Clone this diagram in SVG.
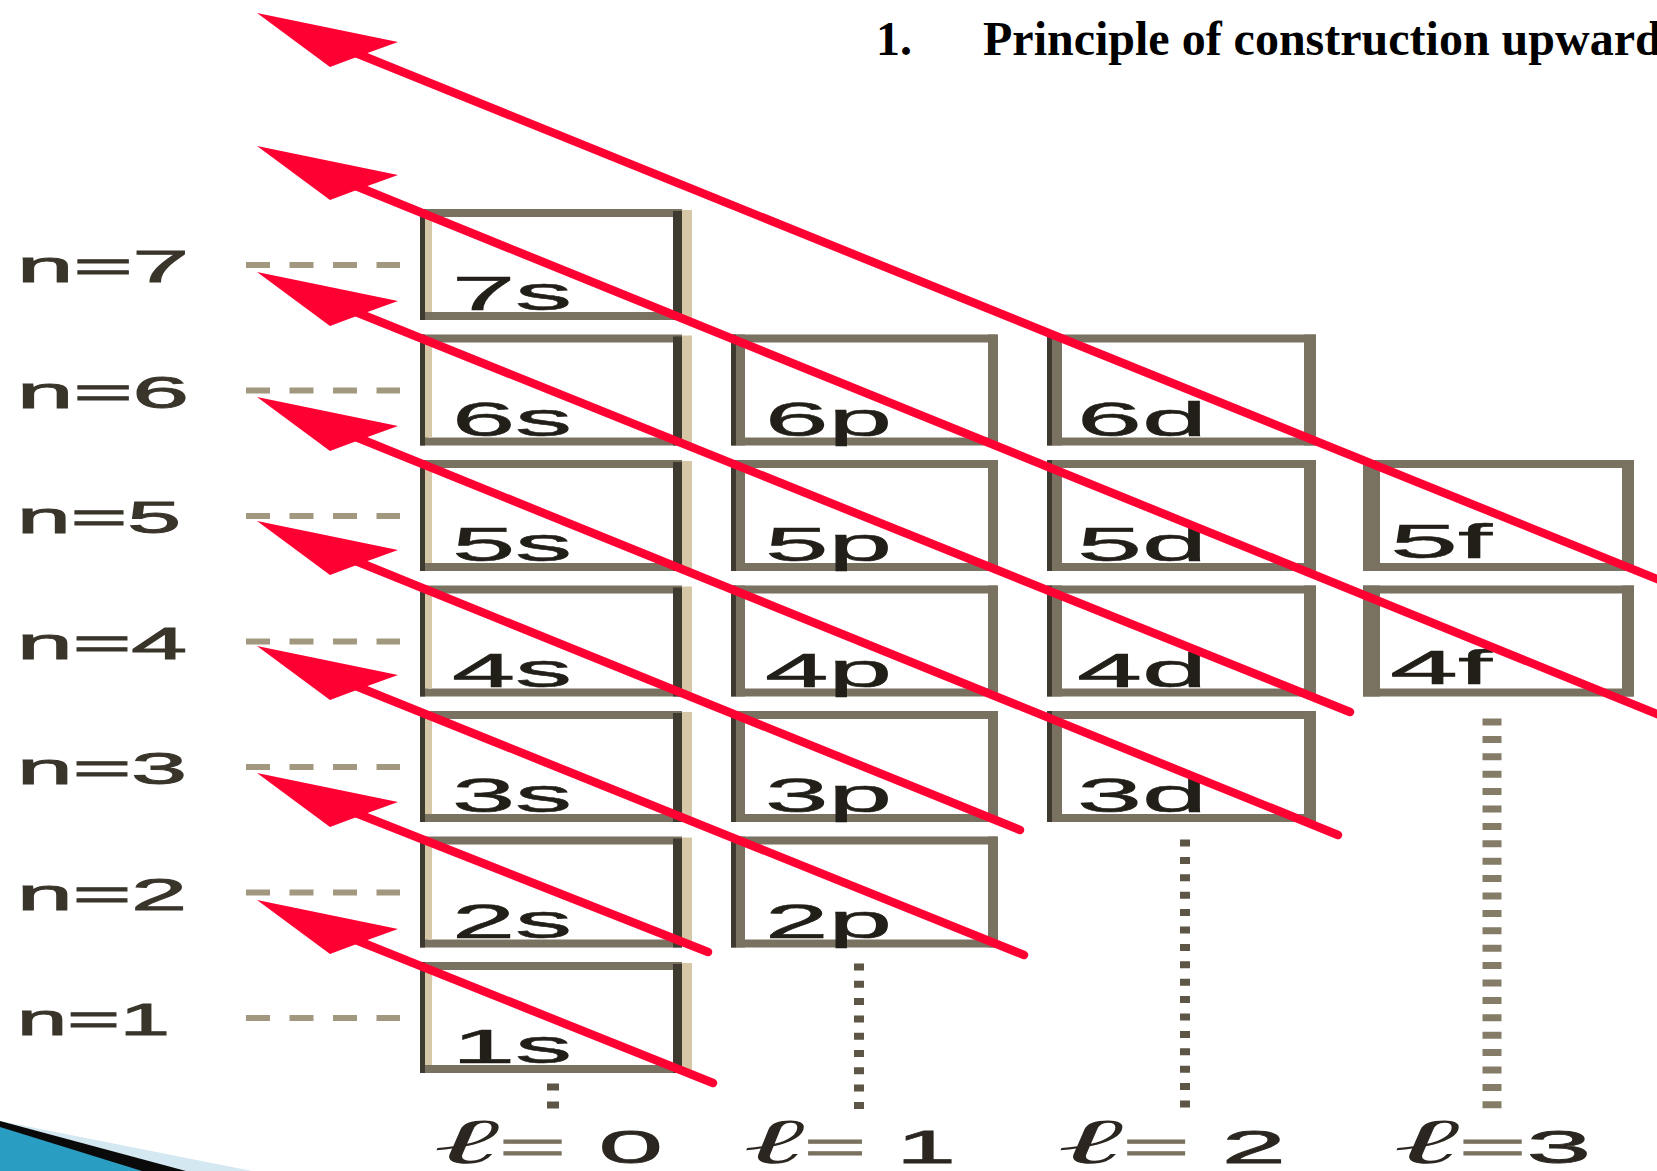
<svg xmlns="http://www.w3.org/2000/svg" width="1657" height="1171" viewBox="0 0 1657 1171">
<style>
.bx{fill:none;stroke:#7a7260;stroke-width:8}
.dk{fill:#3f3a2f}
.gr{fill:#7a7260}
.bg{fill:#d6c8a6}
.lbl{font-family:"Liberation Sans",Arial,sans-serif;font-size:48px;fill:#221f19;stroke:#221f19;stroke-width:0.6}
.nl{font-family:"Liberation Sans",Arial,sans-serif;font-size:44px;fill:#3a352b;stroke:#3a352b;stroke-width:1}
.ll{font-family:"Liberation Sans",Arial,sans-serif;font-size:47px;fill:#2b2720;stroke:#2b2720;stroke-width:0.8}
.ell{font-family:"DejaVu Serif","Liberation Serif",serif;font-style:italic;font-size:64px;stroke:none}
.eq{fill:#7a725f;stroke:#7a725f}
.guide{stroke:#a2977f;stroke-width:6;stroke-dasharray:24 19.5;fill:none}
.dots{stroke:#5d5545;stroke-width:10;stroke-dasharray:7 10.3;fill:none}
.dashf{stroke:#857c67;stroke-width:19;stroke-dasharray:7 10.4;fill:none}
.arrow{stroke:#ff0033;stroke-width:8.5;stroke-linecap:round;fill:none}
.title{font-family:"Liberation Serif","Times New Roman",serif;font-weight:bold;font-size:48px;fill:#000}
</style>
<defs>
<g id="frameS">
 <rect class="bx" x="424" y="4" width="254" height="103"/>
 <rect class="dk" x="420" y="0" width="5" height="111"/>
 <rect class="bg" x="425" y="8" width="7" height="95"/>
 <rect class="dk" x="673" y="2" width="9" height="109"/>
 <rect class="bg" x="682" y="1" width="10" height="108"/>
</g>
<g id="frameP">
 <rect class="bx" x="735" y="4" width="258" height="103"/>
 <rect class="dk" x="731" y="0" width="5" height="111"/>
 <rect class="gr" x="736" y="0" width="9" height="111"/>
 <rect class="gr" x="988" y="0" width="10" height="111"/>
</g>
<g id="frameD">
 <rect class="bx" x="1051" y="4" width="261" height="103"/>
 <rect class="dk" x="1047" y="0" width="5" height="111"/>
 <rect class="gr" x="1052" y="0" width="10" height="111"/>
 <rect class="gr" x="1304" y="0" width="12" height="111"/>
</g>
<g id="frameF">
 <rect class="bx" x="1367" y="4" width="263" height="103"/>
 <rect class="gr" x="1363" y="0" width="17" height="111"/>
 <rect class="gr" x="1622" y="0" width="12" height="111"/>
</g>
<path id="head" d="M0 0 L141 29 L105 42 L73 54 Z" fill="#ff0033"/>
</defs>

<rect width="1657" height="1171" fill="#fff"/>

<g id="corner-decoration">
 <polygon points="0,1121 252,1171 0,1171" fill="#d3e8f1"/>
 <polygon points="0,1121 186,1171 0,1171" fill="#0a0a0a"/>
 <polygon points="0,1127 142,1171 0,1171" fill="#2a9dc2"/>
</g>

<g id="title">
 <text class="title" y="55"><tspan x="876">1.</tspan><tspan x="983">Principle of construction upward</tspan></text>
</g>

<g id="n-labels">
 <text id="n7" class="nl" x="17" y="282" textLength="172" lengthAdjust="spacingAndGlyphs">n=7</text>
 <text id="n6" class="nl" x="17" y="407.5" textLength="172" lengthAdjust="spacingAndGlyphs">n=6</text>
 <text id="n5" class="nl" x="17" y="533" textLength="164" lengthAdjust="spacingAndGlyphs">n=5</text>
 <text id="n4" class="nl" x="17" y="658.5" textLength="170" lengthAdjust="spacingAndGlyphs">n=4</text>
 <text id="n3" class="nl" x="17" y="784" textLength="170" lengthAdjust="spacingAndGlyphs">n=3</text>
 <text id="n2" class="nl" x="17" y="909.5" textLength="170" lengthAdjust="spacingAndGlyphs">n=2</text>
 <text id="n1" class="nl" x="17" y="1035" textLength="153" lengthAdjust="spacingAndGlyphs">n=1</text>
</g>

<g id="guides">
 <line class="guide" x1="246" y1="265" x2="400" y2="265"/>
 <line class="guide" x1="246" y1="390.5" x2="400" y2="390.5"/>
 <line class="guide" x1="246" y1="516" x2="400" y2="516"/>
 <line class="guide" x1="246" y1="641.5" x2="400" y2="641.5"/>
 <line class="guide" x1="246" y1="767" x2="400" y2="767"/>
 <line class="guide" x1="246" y1="892.5" x2="400" y2="892.5"/>
 <line class="guide" x1="246" y1="1018" x2="400" y2="1018"/>
 <rect x="547" y="1083.5" width="12" height="7" fill="#5d5545"/>
 <rect x="547" y="1101.5" width="12" height="7" fill="#5d5545"/>
 <line class="dots" x1="859" y1="963.5" x2="859" y2="1109"/>
 <line class="dots" x1="1185" y1="839.5" x2="1185" y2="1109" style="stroke-dasharray:7 10.4"/>
 <line class="dashf" x1="1492" y1="718.5" x2="1492" y2="1109"/>
</g>

<g id="l-labels">
 <text id="l0" class="ll" x="433" y="1163" textLength="230" lengthAdjust="spacingAndGlyphs"><tspan class="ell">ℓ</tspan><tspan class="eq">=</tspan> 0</text>
 <text id="l1" class="ll" x="743" y="1163" textLength="213" lengthAdjust="spacingAndGlyphs"><tspan class="ell">ℓ</tspan><tspan class="eq">=</tspan> 1</text>
 <text id="l2" class="ll" x="1057" y="1163" textLength="229" lengthAdjust="spacingAndGlyphs"><tspan class="ell">ℓ</tspan><tspan class="eq">=</tspan> 2</text>
 <text id="l3" class="ll" x="1393" y="1163" textLength="198" lengthAdjust="spacingAndGlyphs"><tspan class="ell">ℓ</tspan><tspan class="eq">=</tspan>3</text>
</g>

<g id="nodes">
 <g id="node-7s" transform="translate(0,209)"><use href="#frameS"/><text class="lbl" x="452" y="101" textLength="120" lengthAdjust="spacingAndGlyphs">7s</text></g>
 <g id="node-6s" transform="translate(0,334.5)"><use href="#frameS"/><text class="lbl" x="452" y="101" textLength="120" lengthAdjust="spacingAndGlyphs">6s</text></g>
 <g id="node-5s" transform="translate(0,460)"><use href="#frameS"/><text class="lbl" x="452" y="101" textLength="120" lengthAdjust="spacingAndGlyphs">5s</text></g>
 <g id="node-4s" transform="translate(0,585.5)"><use href="#frameS"/><text class="lbl" x="452" y="101" textLength="120" lengthAdjust="spacingAndGlyphs">4s</text></g>
 <g id="node-3s" transform="translate(0,711)"><use href="#frameS"/><text class="lbl" x="452" y="101" textLength="120" lengthAdjust="spacingAndGlyphs">3s</text></g>
 <g id="node-2s" transform="translate(0,836.5)"><use href="#frameS"/><text class="lbl" x="452" y="101" textLength="120" lengthAdjust="spacingAndGlyphs">2s</text></g>
 <g id="node-1s" transform="translate(0,962)"><use href="#frameS"/><text class="lbl" x="452" y="101" textLength="120" lengthAdjust="spacingAndGlyphs">1s</text></g>

 <g id="node-6p" transform="translate(0,334.5)"><use href="#frameP"/><text class="lbl" x="765" y="101" textLength="127" lengthAdjust="spacingAndGlyphs">6p</text></g>
 <g id="node-5p" transform="translate(0,460)"><use href="#frameP"/><text class="lbl" x="765" y="101" textLength="127" lengthAdjust="spacingAndGlyphs">5p</text></g>
 <g id="node-4p" transform="translate(0,585.5)"><use href="#frameP"/><text class="lbl" x="765" y="101" textLength="127" lengthAdjust="spacingAndGlyphs">4p</text></g>
 <g id="node-3p" transform="translate(0,711)"><use href="#frameP"/><text class="lbl" x="765" y="101" textLength="127" lengthAdjust="spacingAndGlyphs">3p</text></g>
 <g id="node-2p" transform="translate(0,836.5)"><use href="#frameP"/><text class="lbl" x="765" y="101" textLength="127" lengthAdjust="spacingAndGlyphs">2p</text></g>

 <g id="node-6d" transform="translate(0,334.5)"><use href="#frameD"/><text class="lbl" x="1077" y="101" textLength="130" lengthAdjust="spacingAndGlyphs">6d</text></g>
 <g id="node-5d" transform="translate(0,460)"><use href="#frameD"/><text class="lbl" x="1077" y="101" textLength="130" lengthAdjust="spacingAndGlyphs">5d</text></g>
 <g id="node-4d" transform="translate(0,585.5)"><use href="#frameD"/><text class="lbl" x="1077" y="101" textLength="130" lengthAdjust="spacingAndGlyphs">4d</text></g>
 <g id="node-3d" transform="translate(0,711)"><use href="#frameD"/><text class="lbl" x="1077" y="101" textLength="130" lengthAdjust="spacingAndGlyphs">3d</text></g>

 <g id="node-5f" transform="translate(0,460)"><use href="#frameF"/><text class="lbl" x="1390" y="98" textLength="102" lengthAdjust="spacingAndGlyphs">5f</text></g>
 <g id="node-4f" transform="translate(0,585.5)"><use href="#frameF"/><text class="lbl" x="1390" y="98" textLength="102" lengthAdjust="spacingAndGlyphs">4f</text></g>
</g>

<g id="connectors">
 <g id="arrow-1"><line class="arrow" x1="357" y1="940.5" x2="713" y2="1083"/><use href="#head" x="257" y="900"/></g>
 <g id="arrow-2"><line class="arrow" x1="357" y1="813.5" x2="708" y2="952"/><use href="#head" x="257" y="773"/></g>
 <g id="arrow-3"><line class="arrow" x1="357" y1="686.5" x2="1024" y2="955"/><use href="#head" x="257" y="646"/></g>
 <g id="arrow-4"><line class="arrow" x1="357" y1="561.5" x2="1020" y2="830"/><use href="#head" x="257" y="521"/></g>
 <g id="arrow-5"><line class="arrow" x1="357" y1="437.5" x2="1338" y2="835"/><use href="#head" x="257" y="397"/></g>
 <g id="arrow-6"><line class="arrow" x1="357" y1="312.5" x2="1350" y2="712"/><use href="#head" x="257" y="272"/></g>
 <g id="arrow-7"><line class="arrow" x1="357" y1="186.5" x2="1662" y2="716"/><use href="#head" x="257" y="146"/></g>
 <g id="arrow-8"><line class="arrow" x1="357" y1="53.5" x2="1662" y2="581"/><use href="#head" x="257" y="13"/></g>
</g>
</svg>
